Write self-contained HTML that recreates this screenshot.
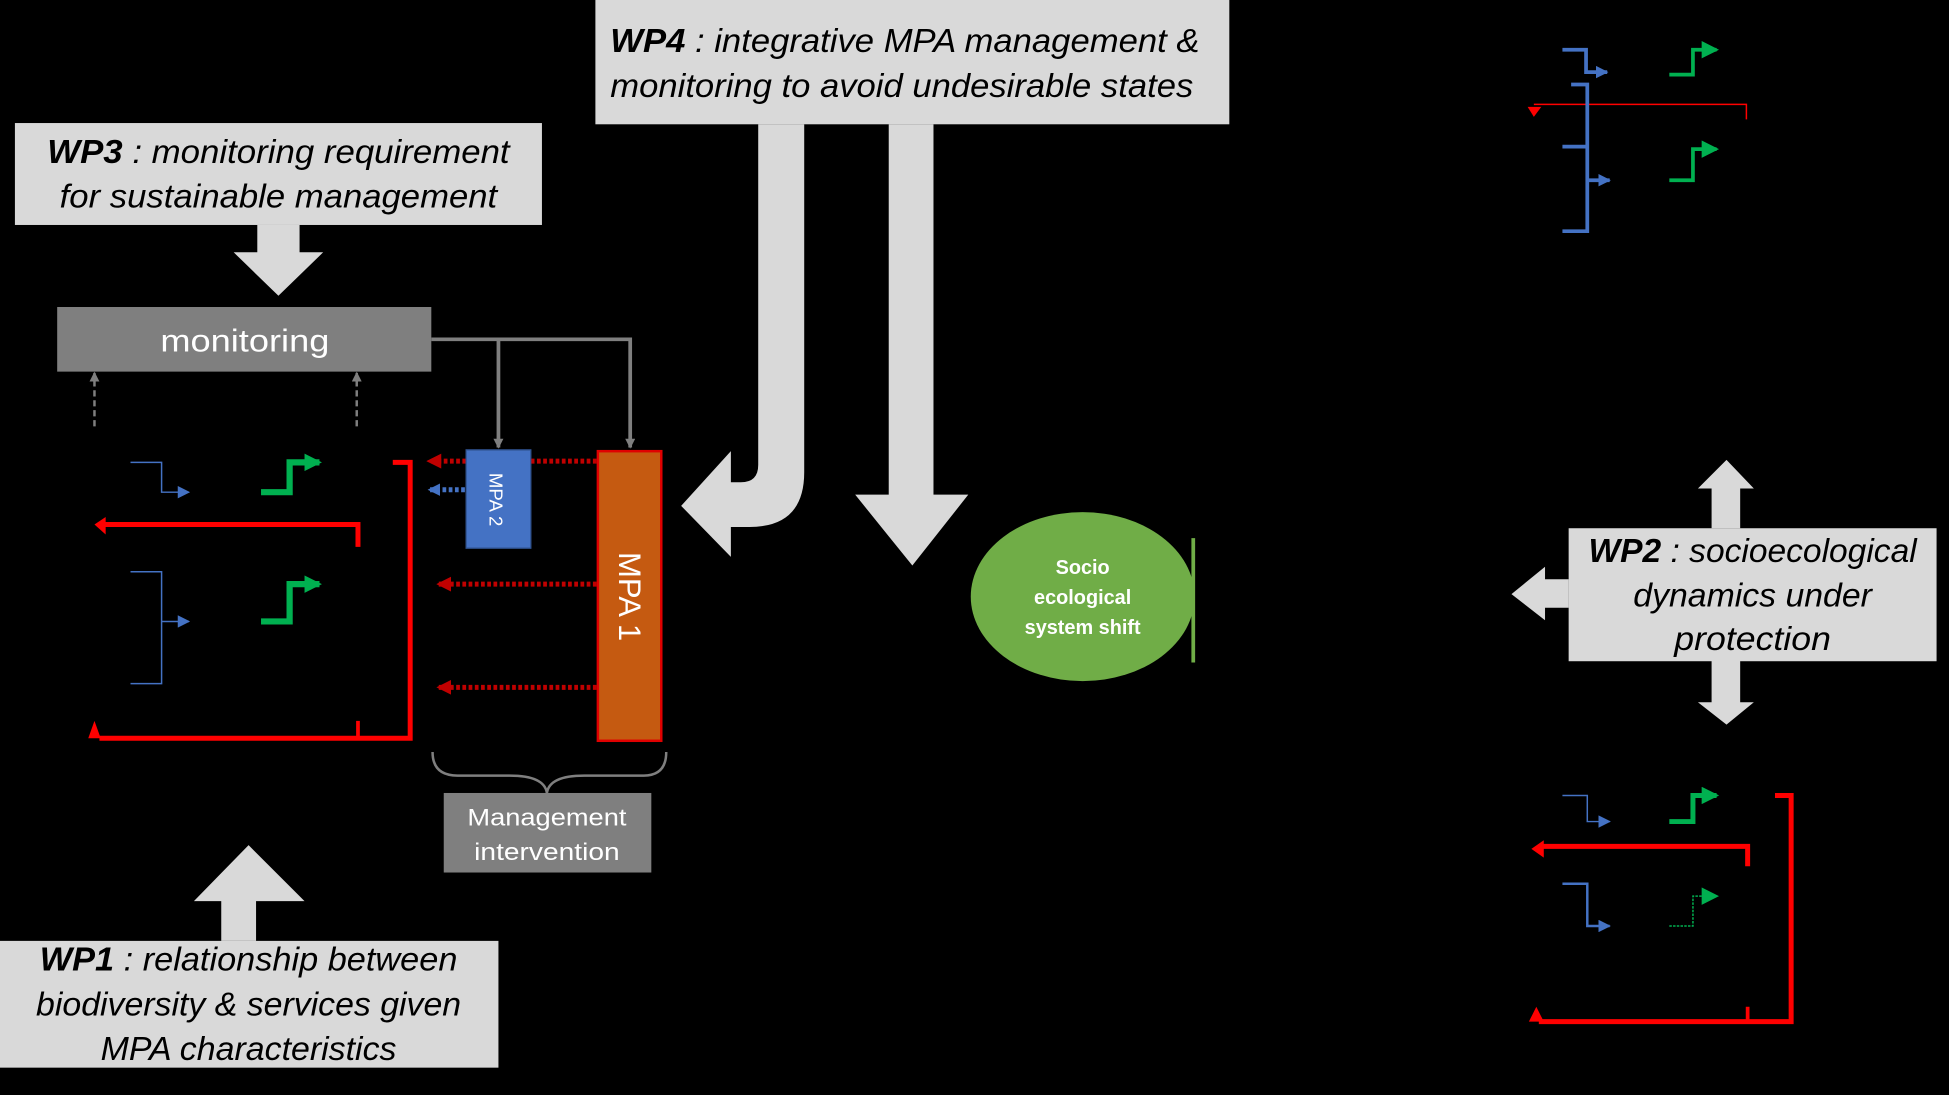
<!DOCTYPE html>
<html><head><meta charset="utf-8"><style>html,body{margin:0;padding:0;background:#000;}svg{display:block}</style></head>
<body>
<svg width="1949" height="1095" viewBox="0 0 1568 881" preserveAspectRatio="none" xmlns="http://www.w3.org/2000/svg" font-family="'Liberation Sans', sans-serif">
<defs>
<marker id="ag" markerWidth="8" markerHeight="8" refX="7" refY="4" orient="auto" markerUnits="userSpaceOnUse"><path d="M0,0L8,4L0,8z" fill="#7f7f7f"/></marker>
<marker id="ab" markerWidth="10" markerHeight="10" refX="9" refY="5" orient="auto" markerUnits="userSpaceOnUse"><path d="M0,0L10,5L0,10z" fill="#4472c4"/></marker>
<marker id="agr" markerWidth="14" markerHeight="14" refX="12" refY="7" orient="auto" markerUnits="userSpaceOnUse"><path d="M0,0L14,7L0,14z" fill="#00b050"/></marker>
<marker id="ar" markerWidth="12" markerHeight="12" refX="10" refY="6" orient="auto" markerUnits="userSpaceOnUse"><path d="M0,0L12,6L0,12z" fill="#c00000"/></marker>
<marker id="arr" markerWidth="12" markerHeight="12" refX="10" refY="6" orient="auto" markerUnits="userSpaceOnUse"><path d="M0,0L12,6L0,12z" fill="#ff0000"/></marker>
</defs>
<rect width="1568" height="881" fill="#000"/>

<!-- WP4 -->
<rect x="479" y="0" width="510" height="100" fill="#d9d9d9"/>
<text x="491" y="42" font-size="27" font-style="italic" fill="#000" textLength="474" lengthAdjust="spacingAndGlyphs"><tspan font-weight="bold">WP4</tspan> : integrative MPA management &amp;</text>
<text x="491" y="78" font-size="27" font-style="italic" fill="#000" textLength="469" lengthAdjust="spacingAndGlyphs">monitoring to avoid undesirable states</text>

<!-- WP4 arrows -->
<path d="M610,100 H647 V380 Q647,424 603,424 H588 V448 L548,407 L588,363 V388 H596 Q610,388 610,374 Z" fill="#d9d9d9"/>
<path d="M715,100 H751 V398 H779 L734,455 L688,398 H715 Z" fill="#d9d9d9"/>

<!-- WP3 -->
<rect x="12" y="99" width="424" height="82" fill="#d9d9d9"/>
<text x="224" y="131" font-size="27" font-style="italic" text-anchor="middle" textLength="372" lengthAdjust="spacingAndGlyphs"><tspan font-weight="bold">WP3</tspan> : monitoring requirement</text>
<text x="224" y="167" font-size="27" font-style="italic" text-anchor="middle" textLength="352" lengthAdjust="spacingAndGlyphs">for sustainable management</text>
<path d="M207,181 H241 V203 H260 L224,238 L188,203 H207 Z" fill="#d9d9d9"/>

<!-- monitoring -->
<rect x="46" y="247" width="301" height="52" fill="#7f7f7f"/>
<text x="197" y="283" font-size="25" fill="#fff" text-anchor="middle" textLength="136" lengthAdjust="spacingAndGlyphs">monitoring</text>
<path d="M347,273 H507 V360" stroke="#7f7f7f" stroke-width="3" fill="none" marker-end="url(#ag)"/>
<path d="M401,273 V360" stroke="#7f7f7f" stroke-width="3" fill="none" marker-end="url(#ag)"/>
<path d="M76,343 V300" stroke="#7f7f7f" stroke-width="2" stroke-dasharray="5,3" fill="none" marker-end="url(#ag)"/>
<path d="M287,343 V300" stroke="#7f7f7f" stroke-width="2" stroke-dasharray="5,3" fill="none" marker-end="url(#ag)"/>

<!-- MPA boxes -->
<rect x="375" y="362" width="52" height="79" fill="#4472c4" stroke="#2f528f" stroke-width="1"/>
<text transform="translate(394,402) rotate(90)" font-size="15" fill="#fff" text-anchor="middle">MPA 2</text>
<rect x="481" y="363" width="51" height="233" fill="#c55a11" stroke="#e00000" stroke-width="2"/>
<text transform="translate(498,480) rotate(90)" font-size="25" fill="#fff" text-anchor="middle">MPA 1</text>

<!-- dotted arrows -->
<path d="M480,371 H345" stroke="#c00000" stroke-width="4" stroke-dasharray="3,2" fill="none" marker-end="url(#ar)"/>
<rect x="375" y="362" width="52" height="79" fill="#4472c4" stroke="#2f528f" stroke-width="1"/>
<text transform="translate(394,402) rotate(90)" font-size="15" fill="#fff" text-anchor="middle">MPA 2</text>
<path d="M374,394 H345" stroke="#4472c4" stroke-width="4" stroke-dasharray="3,2" fill="none" marker-end="url(#ab)"/>
<path d="M480,470 H353" stroke="#c00000" stroke-width="4" stroke-dasharray="3,2" fill="none" marker-end="url(#ar)"/>
<path d="M480,553 H353" stroke="#c00000" stroke-width="4" stroke-dasharray="3,2" fill="none" marker-end="url(#ar)"/>

<!-- left cluster -->
<path d="M316,372 H330 V594 H80" stroke="#ff0000" stroke-width="4" fill="none"/>
<path d="M288,580 V594" stroke="#ff0000" stroke-width="3"/>
<path d="M76,594 L71,594 L76,580 L81,594Z" fill="#ff0000"/>
<path d="M288,440 V422 H84" stroke="#ff0000" stroke-width="4" fill="none"/>
<path d="M76,422 L85,416 V430 Z" fill="#ff0000"/>
<path d="M105,372 H130 V396 H152" stroke="#4472c4" stroke-width="1.2" fill="none" marker-end="url(#ab)"/>
<path d="M105,460 H130 V550 H105 M130,500 H152" stroke="#4472c4" stroke-width="1.2" fill="none" marker-end="url(#ab)"/>
<path d="M210,396 H233 V372 H257" stroke="#00b050" stroke-width="5" fill="none" marker-end="url(#agr)"/>
<path d="M210,500 H233 V470 H257" stroke="#00b050" stroke-width="5" fill="none" marker-end="url(#agr)"/>

<!-- brace -->
<path d="M348,605 Q348,624 368,624 H410 Q438,624 440,638 Q442,624 470,624 H518 Q536,624 536,605" stroke="#7f7f7f" stroke-width="2" fill="none"/>
<rect x="357" y="638" width="167" height="64" fill="#7f7f7f"/>
<text x="440" y="664" font-size="19" fill="#fff" text-anchor="middle" textLength="128" lengthAdjust="spacingAndGlyphs">Management</text>
<text x="440" y="692" font-size="19" fill="#fff" text-anchor="middle" textLength="117" lengthAdjust="spacingAndGlyphs">intervention</text>

<!-- WP1 -->
<path d="M178,757 V725 H156 L200,680 L245,725 H206 V757 Z" fill="#d9d9d9"/>
<rect x="0" y="757" width="401" height="102" fill="#d9d9d9"/>
<text x="200" y="781" font-size="27" font-style="italic" text-anchor="middle" textLength="336" lengthAdjust="spacingAndGlyphs"><tspan font-weight="bold">WP1</tspan> : relationship between</text>
<text x="200" y="817" font-size="27" font-style="italic" text-anchor="middle" textLength="342" lengthAdjust="spacingAndGlyphs">biodiversity &amp; services given</text>
<text x="200" y="853" font-size="27" font-style="italic" text-anchor="middle" textLength="238" lengthAdjust="spacingAndGlyphs">MPA characteristics</text>

<!-- ellipse -->
<ellipse cx="871" cy="480" rx="90" ry="68" fill="#70ad47"/>
<path d="M960,433 V533" stroke="#70ad47" stroke-width="3"/>
<text x="871" y="462" font-size="16" font-weight="bold" fill="#fff" text-anchor="middle">Socio</text>
<text x="871" y="486" font-size="16" font-weight="bold" fill="#fff" text-anchor="middle">ecological</text>
<text x="871" y="510" font-size="16" font-weight="bold" fill="#fff" text-anchor="middle">system shift</text>

<!-- WP2 -->
<path d="M1377,425 V393 H1366 L1389,370 L1411,393 H1400 V425 Z" fill="#d9d9d9"/>
<path d="M1377,531 V565 H1366 L1389,583 L1411,565 H1400 V531 Z" fill="#d9d9d9"/>
<path d="M1262,466 H1243 V456 L1216,478 L1243,499 V489 H1262 Z" fill="#d9d9d9"/>
<rect x="1262" y="425" width="296" height="107" fill="#d9d9d9"/>
<text x="1410" y="452" font-size="27" font-style="italic" text-anchor="middle" textLength="264" lengthAdjust="spacingAndGlyphs"><tspan font-weight="bold">WP2</tspan> : socioecological</text>
<text x="1410" y="488" font-size="27" font-style="italic" text-anchor="middle" textLength="192" lengthAdjust="spacingAndGlyphs">dynamics under</text>
<text x="1410" y="523" font-size="27" font-style="italic" text-anchor="middle" textLength="126" lengthAdjust="spacingAndGlyphs">protection</text>

<!-- top right cluster -->
<path d="M1234,84 H1405 V96" stroke="#ff0000" stroke-width="1.2" fill="none"/>
<path d="M1229,86 H1240 L1234,94 Z" fill="#ff0000"/>
<path d="M1257,40 H1276 V58 H1293" stroke="#4472c4" stroke-width="3" fill="none" marker-end="url(#ab)"/>
<path d="M1264,68 H1277 V186 H1257 M1257,118 H1277 M1277,145 H1295" stroke="#4472c4" stroke-width="3" fill="none" marker-end="url(#ab)"/>
<path d="M1343,60 H1362 V40 H1381" stroke="#00b050" stroke-width="3" fill="none" marker-end="url(#agr)"/>
<path d="M1343,145 H1362 V120 H1381" stroke="#00b050" stroke-width="3" fill="none" marker-end="url(#agr)"/>

<!-- bottom right cluster -->
<path d="M1257,640 H1277 V661 H1295" stroke="#4472c4" stroke-width="1.2" fill="none" marker-end="url(#ab)"/>
<path d="M1343,661 H1362 V640 H1381" stroke="#00b050" stroke-width="4" fill="none" marker-end="url(#agr)"/>
<path d="M1406,697 V681 H1240" stroke="#ff0000" stroke-width="4" fill="none"/>
<path d="M1232,683 L1242,676 V690 Z" fill="#ff0000"/>
<path d="M1257,711 H1277 V745 H1295" stroke="#4472c4" stroke-width="2" fill="none" marker-end="url(#ab)"/>
<path d="M1343,745 H1362 V721 H1381" stroke="#00b050" stroke-width="1.2" stroke-dasharray="2,1" fill="none" marker-end="url(#agr)"/>
<path d="M1428,640 H1441 V822 H1238" stroke="#ff0000" stroke-width="4" fill="none"/>
<path d="M1406,810 V822" stroke="#ff0000" stroke-width="3"/>
<path d="M1230,822 L1236,810 L1242,822 Z" fill="#ff0000"/>
</svg>
</body></html>
